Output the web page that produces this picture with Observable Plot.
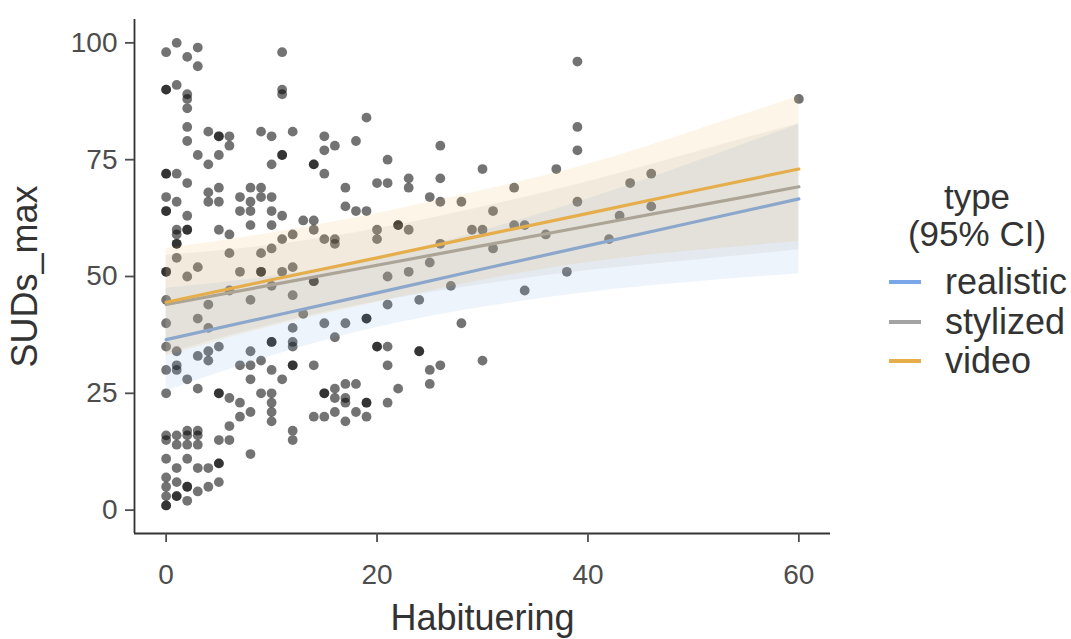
<!DOCTYPE html>
<html><head><meta charset="utf-8">
<script src="https://cdn.jsdelivr.net/npm/d3@7"></script>
<script src="https://cdn.jsdelivr.net/npm/@observablehq/plot@0.6"></script>
<style>
html,body{margin:0;padding:0;background:#fff;}
#wrap{position:relative;width:1071px;height:639px;font-family:"Liberation Sans",Arial,sans-serif;}
#wrap svg{font-family:"Liberation Sans",Arial,sans-serif;}
#legend{position:absolute;left:0;top:0;pointer-events:none;}
</style></head><body><div id="wrap"></div>
<script>
// Habituering values (x) and the SUDs_max observations at each
const habituering = [0,1,2,3,4,5,6,7,8,9,10,11,12,13,14,15,16,17,18,19,20,21,22,23,24,25,26,27,28,29,30,31,33,34,36,37,38,39,42,43,44,46,60];
const sudsMax = [
 [98,90,90,72,72,67,64,64,51,51,45,40,35,30,25,16,15,11,7,5,3,1,1],
 [100,91,72,66,60,59,57,57,54,34,31,30,16,14,9,6,3,3],
 [97,89,88,86,82,79,70,63,60,60,50,28,17,16,14,11,5,5,2],
 [99,95,76,52,41,33,26,17,16,14,9,4],
 [81,74,68,66,44,39,34,32,9,5],
 [80,80,76,69,66,60,35,25,25,15,10,10,6],
 [80,78,59,55,47,24,18,15],
 [67,64,51,31,23,20],
 [69,66,64,61,45,34,31,28,21,12],
 [81,69,67,55,51,51,32,25],
 [80,74,67,64,61,56,48,36,36,30,25,23,21,19],
 [98,90,89,76,76,63,58,51,28],
 [81,59,52,46,39,36,35,31,31,17,15],
 [62,42],
 [74,74,62,60,49,49,31,20],
 [80,77,72,58,40,25,25,20],
 [78,58,57,37,26,24,21],
 [69,65,40,27,24,23,19],
 [79,64,27,21],
 [84,64,41,41,23,23,20],
 [70,60,58,35,35],
 [75,70,50,44,35,31,23],
 [61,61,26],
 [71,69,60,51],
 [45,34,34],
 [67,53,30,27],
 [78,71,66,57,31],
 [48],
 [66,40],
 [60],
 [73,60,32],
 [64,56],
 [69,61],
 [61,47],
 [59],
 [73],
 [51],
 [96,82,77,66],
 [58],
 [63],
 [70],
 [72,65],
 [88]
];

// regression fits and 95% CI bands
const types = ["realistic", "stylized", "video"];
const typeColors = ["#7aa7e8", "#a3a3a3", "#e5ae4b"];
const fitX = [0, 10, 20, 30, 40, 50, 60];
const realisticFit = [36.5, 41.5, 46.5, 51.6, 56.6, 61.6, 66.6];
const realisticLo  = [25.5, 33.0, 39.1, 43.4, 46.6, 48.8, 50.6];
const realisticHi  = [47.5, 50.0, 53.9, 59.8, 66.6, 74.4, 82.6];
const stylizedFit  = [44.0, 48.2, 52.4, 56.6, 60.8, 65.0, 69.2];
const stylizedLo   = [33.5, 39.7, 44.6, 48.3, 51.3, 53.5, 55.7];
const stylizedHi   = [54.5, 56.7, 60.2, 64.9, 70.3, 76.5, 82.7];
const videoFit     = [44.5, 49.3, 54.0, 58.8, 63.5, 68.3, 73.0];
const videoLo      = [33.0, 39.3, 44.5, 49.2, 53.0, 55.5, 57.5];
const videoHi      = [56.0, 59.3, 63.5, 68.4, 74.0, 81.1, 88.5];

const xTicks = [0, 20, 40, 60];
const yTicks = [0, 25, 50, 75, 100];
const xTitle = "Habituering";
const yTitle = "SUDs_max";
const legendTitle = ["type", "(95% CI)"];

const points = [];
habituering.forEach((h, i) => sudsMax[i].forEach(s => points.push({h, s})));

const fits = [realisticFit, stylizedFit, videoFit];
const los = [realisticLo, stylizedLo, videoLo];
const his = [realisticHi, stylizedHi, videoHi];
const bandData = types.map((t, k) => fitX.map((x, i) => ({type: t, x, fit: fits[k][i], lo: los[k][i], hi: his[k][i]})));

const smoothMarks = [];
types.forEach((t, k) => {
  smoothMarks.push(Plot.areaY(bandData[k], {x: "x", y1: "lo", y2: "hi", fill: typeColors[k], fillOpacity: 0.13, curve: "natural"}));
  smoothMarks.push(Plot.line(bandData[k], {x: "x", y: "fit", stroke: typeColors[k], strokeWidth: 3.2}));
});

const chart = Plot.plot({
  width: 1071,
  height: 639,
  marginLeft: 134,
  marginRight: 241,
  marginTop: 19,
  marginBottom: 106,
  style: {fontFamily: "'Liberation Sans', Arial, sans-serif", background: "#fff"},
  x: {domain: [-3, 63]},
  y: {domain: [-5, 105]},
  marks: [
    Plot.dot(points, {x: "h", y: "s", r: 4.9, fill: "#000", fillOpacity: 0.55, stroke: "none"}),
    ...smoothMarks,
    Plot.ruleX([-3], {y1: -5, y2: 105, stroke: "#333", strokeWidth: 1.8}),
    Plot.ruleY([-5], {x1: -3, x2: 63, stroke: "#333", strokeWidth: 1.8}),
    Plot.axisX({ticks: xTicks, tickSize: 9, tickPadding: 22, fontSize: 28, color: "#4d4d4d", label: null, strokeWidth: 1.8}),
    Plot.axisY({ticks: yTicks, tickSize: 9, tickPadding: 8, fontSize: 28, color: "#4d4d4d", label: null, strokeWidth: 1.8}),
    Plot.text([xTitle], {text: d => d, frameAnchor: "bottom", dy: 96, fontSize: 36, fill: "#333"}),
    Plot.text([yTitle], {text: d => d, frameAnchor: "left", textAnchor: "middle", dx: -109, rotate: -90, fontSize: 36, fill: "#333"})
  ]
});
document.getElementById("wrap").appendChild(chart);

// legend
const lg = d3.select("#wrap").append("svg").attr("id", "legend").attr("width", 1071).attr("height", 639);
lg.append("text").attr("x", 977).attr("y", 209).attr("text-anchor", "middle").attr("font-size", 35).attr("fill", "#333").text(legendTitle[0]);
lg.append("text").attr("x", 977).attr("y", 246).attr("text-anchor", "middle").attr("font-size", 35).attr("fill", "#333").text(legendTitle[1]);
const keyY = [282, 322, 361];
types.forEach((t, k) => {
  lg.append("line").attr("x1", 889).attr("x2", 921).attr("y1", keyY[k]).attr("y2", keyY[k]).attr("stroke", typeColors[k]).attr("stroke-width", 4);
  lg.append("text").attr("x", 945).attr("y", keyY[k] + 12).attr("font-size", 36).attr("fill", "#333").text(t);
});
</script></body></html>
